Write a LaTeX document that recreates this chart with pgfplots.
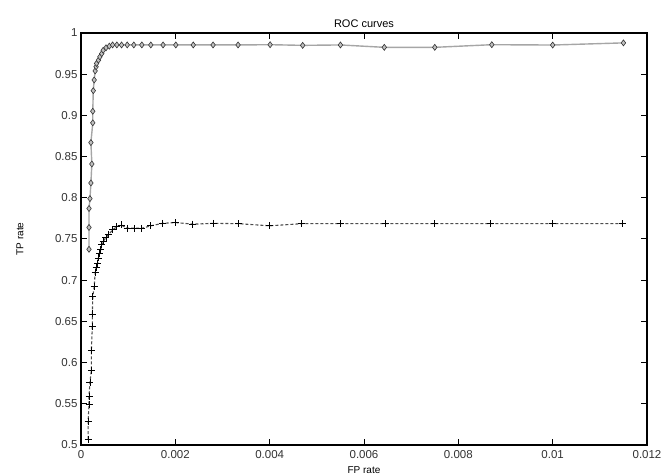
\documentclass[border=0pt]{standalone}
\usepackage{fontspec}
\setmainfont{Liberation Sans}
\usepackage{pgfplots}
\pgfplotsset{compat=1.18}

\begin{document}
\begin{tikzpicture}
\begin{axis}[
    scale only axis,
    width=566pt, height=412pt,
    xmin=0, xmax=0.012, ymin=0.5, ymax=1,
    xtick={0,0.002,...,0.012},
    ytick={0.5,0.55,...,1.0},
    scaled x ticks=false,
    /pgf/number format/fixed,
    /pgf/number format/precision=3,
    /pgf/number format/assume math mode=true,
    tick align=inside,
    major tick length=6pt,
    axis line style={line width=1.2pt},
    tick style={line width=1pt, black},
    tick label style={font=\fontsize{11.5}{12}\selectfont, black!80},
    xticklabel style={yshift=-2pt},
    title={ROC curves},
    title style={font=\fontsize{11}{12}\selectfont, yshift=-4pt},
    xlabel={FP rate},
    ylabel={TP rate},
    label style={font=\fontsize{10}{11}\selectfont},
    xlabel style={at={(axis description cs:0.5,-0.062)}, anchor=center},
    ylabel style={at={(axis description cs:-0.108,0.5)}, anchor=center, rotate=0},
]
% upper curve
\addplot[gray!70, line width=1.4pt, mark=diamond*, mark size=3pt,
    mark options={solid, fill=gray!50, draw=black!80, line width=0.6pt}]
coordinates {
(0.00017,0.7375) (0.00017,0.764) (0.00017,0.787) (0.00019,0.799) (0.00021,0.818)
(0.00023,0.841) (0.00021,0.867) (0.00025,0.891) (0.00025,0.905) (0.00026,0.930)
(0.00028,0.943) (0.00030,0.954) (0.00032,0.959) (0.00033,0.963) (0.00037,0.967)
(0.00040,0.971) (0.00044,0.975) (0.00047,0.979) (0.00053,0.982) (0.00060,0.984)
(0.00067,0.9855) (0.00076,0.9855) (0.00086,0.9855) (0.00098,0.9855) (0.00112,0.9855)
(0.00129,0.9855) (0.00148,0.9855) (0.00174,0.9855) (0.00201,0.9855) (0.00238,0.9855)
(0.0028,0.9855) (0.00333,0.9855) (0.00401,0.9858) (0.0047,0.9850) (0.0055,0.9855)
(0.00643,0.9826) (0.0075,0.9826) (0.00871,0.9858) (0.0100,0.9854) (0.0115,0.988)
};
% lower curve
\addplot[black!70, line width=1.1pt, densely dashed, mark=+, mark size=3.5pt,
    mark options={solid, black, line width=0.9pt}]
coordinates {
(0.00015,0.507) (0.00015,0.528) (0.00017,0.549) (0.00017,0.559) (0.00019,0.576)
(0.00022,0.591) (0.00022,0.615) (0.00024,0.644) (0.00024,0.659) (0.00025,0.680)
(0.00028,0.692) (0.00030,0.709) (0.00032,0.715) (0.00035,0.720) (0.00037,0.727)
(0.00039,0.733) (0.00042,0.737) (0.00044,0.743) (0.00047,0.747) (0.00053,0.752)
(0.00058,0.755) (0.00067,0.761) (0.00076,0.765) (0.00085,0.767) (0.00098,0.763)
(0.00113,0.763) (0.00129,0.763) (0.00148,0.766) (0.00173,0.769) (0.0020,0.770)
(0.00237,0.768) (0.0028,0.769) (0.00334,0.7686) (0.0040,0.766) (0.00468,0.7686)
(0.0055,0.7686) (0.00645,0.7686) (0.00749,0.7686) (0.00869,0.7686) (0.0100,0.7686)
(0.01148,0.7686)
};
\end{axis}
\pgfresetboundingbox
\path[use as bounding box] (-81pt,-31pt) rectangle (585pt,445pt);
\end{tikzpicture}
\end{document}
